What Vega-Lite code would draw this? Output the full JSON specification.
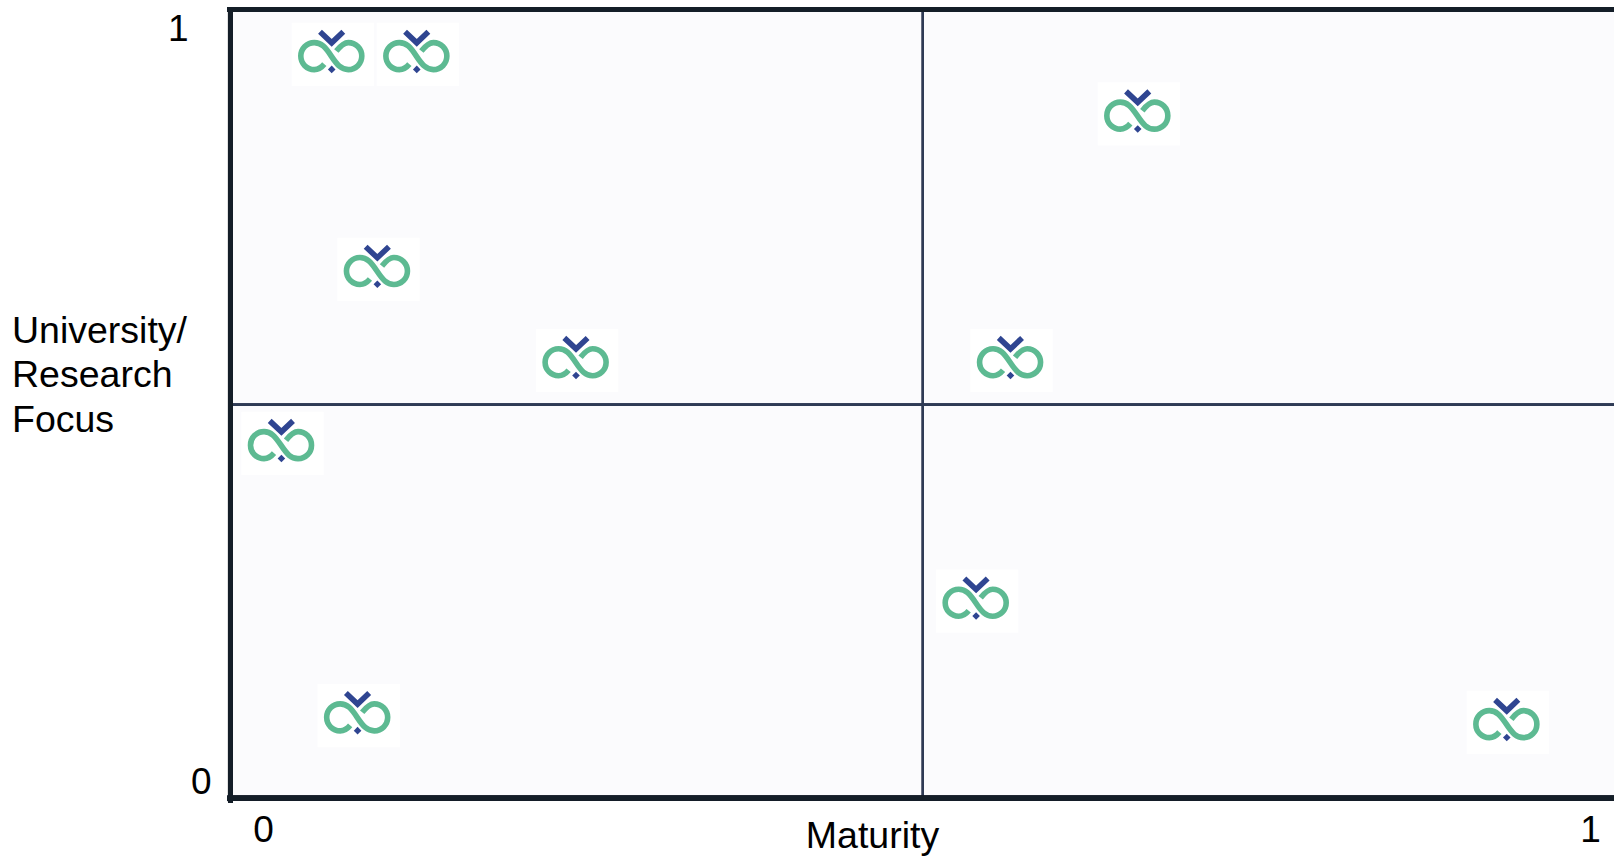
{
"$schema":"https://vega.github.io/schema/vega-lite/v6.json",
"width":1384,"height":790,
"autosize":{"type":"none"},
"padding":{"left":230,"top":10,"right":0,"bottom":60},
"background":"#ffffff",
"view":{"fill":"#fbfbfd","stroke":null},
"data":{"values":[
{"maturity":0.0526,"focus":0.965},
{"maturity":0.1167,"focus":0.965},
{"maturity":0.66,"focus":0.886},
{"maturity":0.087,"focus":0.68},
{"maturity":0.2367,"focus":0.559},
{"maturity":0.5641,"focus":0.559},
{"maturity":0.0147,"focus":0.449},
{"maturity":0.5382,"focus":0.24},
{"maturity":0.0721,"focus":0.088},
{"maturity":0.9381,"focus":0.079}
]},
"encoding":{
"x":{"field":"maturity","type":"quantitative","scale":{"domain":[-0.02487,1.01808],"nice":false,"zero":false},
"axis":{"values":[0,1],"format":"d","grid":false,"domain":false,"ticks":false,"labelFont":"Liberation Sans","labelFontSize":37,"labelColor":"#000000","labelBaseline":"alphabetic","labelPadding":41,"labelFlush":false,"labelOverlap":false,"title":"Maturity","titleFont":"Liberation Sans","titleFontSize":37.5,"titleFontWeight":"normal","titleColor":"#000000","titleAlign":"center","titleBaseline":"alphabetic","titleX":642,"titleY":47}},
"y":{"field":"focus","type":"quantitative","scale":{"domain":[-0.02387,1.02387],"nice":false,"zero":false},
"axis":{"values":[0,1],"format":"d","grid":false,"domain":false,"ticks":false,"labelFont":"Liberation Sans","labelFontSize":37,"labelColor":"#000000","labelBaseline":"middle","labelAlign":"right","labelPadding":19,"labelFlush":false,"labelOverlap":false,"labelOffset":{"condition":{"test":"datum.value==1","value":2},"value":0},"encoding":{"labels":{"dx":{"condition":{"test":"datum.value==1","value":-23},"value":0}}},"title":["University/","Research","Focus"],"titleFont":"Liberation Sans","titleFontSize":37.5,"titleFontWeight":"normal","titleColor":"#000000","titleAngle":0,"titleAlign":"left","titleBaseline":"alphabetic","titleLineHeight":44.5,"titleX":-218.5,"titleY":332}}
},
"layer":[
{"mark":{"type":"rule","color":"#2f3b55","strokeWidth":1.8},"encoding":{"x":{"datum":0.4972,"type":"quantitative"},"y":null}},
{"mark":{"type":"rule","color":"#2f3b55","strokeWidth":1.8},"encoding":{"y":{"datum":0.5005,"type":"quantitative"},"x":null}},
{"mark":{"type":"rule","color":"#141e28","strokeWidth":5,"strokeCap":"square"},"encoding":{"x":{"datum":-0.0245,"type":"quantitative"},"y":null}},
{"mark":{"type":"rule","color":"#141e28","strokeWidth":5,"strokeCap":"square"},"encoding":{"y":{"datum":1.0245,"type":"quantitative"},"x":null}},
{"mark":{"type":"rule","color":"#141e28","strokeWidth":5,"strokeCap":"square"},"encoding":{"y":{"datum":-0.0215,"type":"quantitative"},"x":null}},
{"mark":{"type":"point","filled":true,"fill":"#ffffff","opacity":1,"strokeWidth":0,"size":6400,"shape":"M -1.03 -0.79 L 1.03 -0.79 L 1.03 0.79 L -1.03 0.79 Z"}},
{"mark":{"type":"point","filled":false,"stroke":"#5dba92","opacity":1,"strokeWidth":5.6,"size":6400,"shape":"M 0.0875 -0.0825 C 0.1875 -0.2075 0.2875 -0.295 0.3875 -0.295 C 0.575 -0.295 0.725 -0.145 0.725 0.0425 C 0.725 0.23 0.575 0.38 0.3875 0.38 C 0.2125 0.38 0.1125 0.2675 -0.0375 0.0425 C -0.1875 -0.1825 -0.2875 -0.295 -0.4625 -0.295 C -0.65 -0.295 -0.8 -0.145 -0.8 0.0425 C -0.8 0.23 -0.65 0.38 -0.4625 0.38 C -0.3625 0.38 -0.275 0.3175 -0.2125 0.2425"}},
{"mark":{"type":"point","filled":false,"stroke":"#2f4591","opacity":1,"strokeWidth":5.6,"size":6400,"shape":"M -0.32 -0.565 L -0.0275 -0.29 L 0.2625 -0.565"}},
{"mark":{"type":"point","filled":true,"fill":"#2f4591","opacity":1,"strokeWidth":0,"size":6400,"shape":"M -0.1225 0.375 L -0.0275 0.28 L 0.0675 0.375 L -0.0275 0.47 Z"}}
]
}
